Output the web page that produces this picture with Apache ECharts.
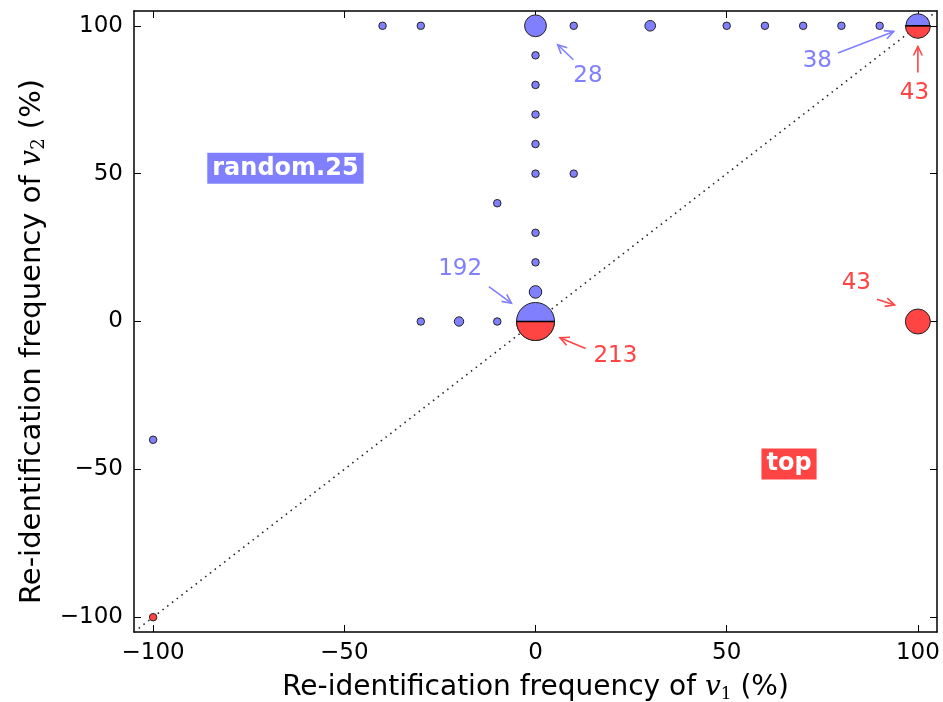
<!DOCTYPE html>
<html><head><meta charset="utf-8">
<script src="https://cdn.jsdelivr.net/npm/echarts@6/dist/echarts.min.js"></script>
<style>html,body{margin:0;padding:0;background:#fff}#c{width:943px;height:702px}</style>
</head><body><div id="c"></div>
<script>
// ---- data ----
const tickValues = [-100, -50, 0, 50, 100];
const blueX = [-40, -30, 0, 10, 30, 50, 60, 70, 80, 90, 100, 0, 0, 0, 0, 0, 0, 0, 0, 0, 10, -10, -30, -20, -10, -100];
const blueY = [100, 100, 100, 100, 100, 100, 100, 100, 100, 100, 100, 90, 80, 70, 60, 50, 30, 20, 10, 0, 50, 40, 0, 0, 0, -40];
const blueN = [1, 1, 28, 1, 3, 1, 1, 1, 1, 1, 38, 1, 1, 1, 1, 1, 1, 1, 5, 192, 1, 1, 1, 2, 1, 1];
const redX = [-100, 0, 100, 100];
const redY = [-100, 0, 100, 0];
const redN = [1, 213, 43, 43];
const diagX = [-105, 105];
const diagY = [-105, 105];
// annotations (data coordinates): label, series, text anchor, arrow tail, arrow head
const annLabels = ['28', '38', '192', '43', '213', '43'];
const annSeries = ['blue', 'blue', 'blue', 'red', 'red', 'red'];
const annTextX = [13.7, 73.7, -19.7, 99.1, 20.9, 83.9];
const annTextY = [83.1, 88.0, 17.8, 77.3, -11.8, 13.0];
const annTailX = [9.9, 79.1, -12.2, 100, 13.1, 89.3];
const annTailY = [88.5, 90.8, 11.8, 84.2, -9.1, 7.5];
const annHeadX = [5.8, 93.7, -6.3, 100, 6.4, 93.9];
const annHeadY = [93.6, 98.1, 6.2, 93.0, -5.5, 5.6];
const boxLabels = ['random.25', 'top'];
const boxSeries = ['blue', 'red'];
const boxX = [-65.4, 66.3];
const boxY = [51.8, -48.2];

// ---- styles ----
const COLORS = { blue: '#8080ff', red: '#ff4444' };
const EDGE = '#222';
function sizeOf(n) { return Math.min(7.5 * Math.pow(n, 0.32), 38); }
function fmt(v) { return v < 0 ? '\u2212' + Math.abs(v) : String(v); }

const blueData = blueX.map((x, i) => [x, blueY[i], blueN[i]]);
const redData = redX.map((x, i) => {
  const split = blueX.some((bx, j) => bx === x && blueY[j] === redY[i]) ? 1 : 0;
  return [x, redY[i], redN[i], split];
});
const annData = annLabels.map((l, i) => [annTextX[i], annTextY[i], annTailX[i], annTailY[i], annHeadX[i], annHeadY[i], i]);
const boxData = boxLabels.map((l, i) => [boxX[i], boxY[i], i]);

const axisCommon = {
  type: 'value', min: -105, max: 105,
  splitLine: { show: false },
  axisLine: { show: true, onZero: false, lineStyle: { color: '#000', width: 1.5 } },
  axisTick: { show: true, inside: true, length: 7, customValues: tickValues, lineStyle: { color: '#000', width: 1 } }
};
const labelStyle = { customValues: tickValues, formatter: fmt, fontFamily: 'DejaVu Sans', fontSize: 23, color: '#000' };
function nameStyle(fs, extra) {
  return Object.assign({
    fontFamily: 'DejaVu Sans', fontSize: fs, color: '#000',
    rich: {
      v: { fontFamily: 'DejaVu Serif', fontStyle: 'italic', fontSize: fs, color: '#000' },
      s: { fontFamily: 'DejaVu Serif', fontSize: Math.round(fs * 0.62), color: '#000', padding: [Math.round(fs * 0.46), 0, 0, 0] }
    }
  }, extra || {});
}

const chart = echarts.init(document.getElementById('c'), null, { renderer: 'canvas' });
chart.setOption({
  backgroundColor: '#fff',
  animation: false,
  grid: { left: 134, right: 6, top: 11, bottom: 70, containLabel: false, outerBoundsMode: 'none' },
  xAxis: [
    Object.assign({}, axisCommon, {
      position: 'bottom',
      axisLabel: Object.assign({ margin: 10 }, labelStyle),
      name: 'Re-identification frequency of {v|v}{s|1} (%)',
      nameLocation: 'middle', nameGap: 41, nameTextStyle: nameStyle(28)
    }),
    Object.assign({}, axisCommon, { position: 'top', axisLabel: { show: false } })
  ],
  yAxis: [
    Object.assign({}, axisCommon, {
      position: 'left',
      axisLabel: Object.assign({ margin: 11 }, labelStyle),
      name: 'Re-identification frequency of {v|v}{s|2} (%)',
      nameLocation: 'middle', nameRotate: 90, nameGap: 86,
      nameTextStyle: nameStyle(29, { padding: [0, 40, 0, 0] })
    }),
    Object.assign({}, axisCommon, { position: 'right', axisLabel: { show: false } })
  ],
  series: [
    {
      type: 'line', data: diagX.map((x, i) => [x, diagY[i]]), symbol: 'none', silent: true, z: 1,
      lineStyle: { color: '#222', width: 1.6, type: [1.5, 4.5] }
    },
    {
      type: 'scatter', data: blueData, z: 3,
      symbolSize: v => sizeOf(v[2]),
      itemStyle: { color: COLORS.blue, borderColor: EDGE, borderWidth: 1, opacity: 1 }
    },
    {
      type: 'custom', data: redData, z: 4, encode: { x: 0, y: 1 },
      renderItem: (params, api) => {
        const c = api.coord([api.value(0), api.value(1)]);
        const r = sizeOf(api.value(2)) / 2;
        if (api.value(3)) {
          return { type: 'group', children: [
            { type: 'sector', shape: { cx: c[0], cy: c[1], r0: 0, r: r, startAngle: 0, endAngle: Math.PI, clockwise: true },
              style: { fill: COLORS.red, stroke: EDGE, lineWidth: 1 } },
            { type: 'line', shape: { x1: c[0] - r, y1: c[1], x2: c[0] + r, y2: c[1] },
              style: { stroke: '#000', lineWidth: 1.5 } }
          ] };
        }
        return { type: 'circle', shape: { cx: c[0], cy: c[1], r: r }, style: { fill: COLORS.red, stroke: EDGE, lineWidth: 1 } };
      }
    },
    {
      type: 'custom', data: annData, z: 5, encode: { x: 0, y: 1 }, silent: true,
      renderItem: (params, api) => {
        const i = api.value(6);
        const col = COLORS[annSeries[i]];
        const t = api.coord([api.value(0), api.value(1)]);
        const a = api.coord([api.value(2), api.value(3)]);
        const h = api.coord([api.value(4), api.value(5)]);
        const ang = Math.atan2(h[1] - a[1], h[0] - a[0]);
        const L = 10, w = 0.45;
        const p1 = [h[0] - L * Math.cos(ang - w), h[1] - L * Math.sin(ang - w)];
        const p2 = [h[0] - L * Math.cos(ang + w), h[1] - L * Math.sin(ang + w)];
        return { type: 'group', children: [
          { type: 'text', style: { text: annLabels[i], x: t[0], y: t[1], fill: col, font: '23px "DejaVu Sans"', align: 'center', verticalAlign: 'middle' } },
          { type: 'line', shape: { x1: a[0], y1: a[1], x2: h[0], y2: h[1] }, style: { stroke: col, lineWidth: 1.6 } },
          { type: 'polyline', shape: { points: [p1, h, p2] }, style: { stroke: col, lineWidth: 1.6, fill: null } }
        ] };
      }
    },
    {
      type: 'custom', data: boxData, z: 5, encode: { x: 0, y: 1 }, silent: true,
      renderItem: (params, api) => {
        const i = api.value(2);
        const p = api.coord([api.value(0), api.value(1)]);
        return { type: 'text', style: {
          text: boxLabels[i], x: p[0], y: p[1], fill: '#fff', font: 'bold 24px "DejaVu Sans"',
          align: 'center', verticalAlign: 'middle', backgroundColor: COLORS[boxSeries[i]], padding: [4, 5, 3, 5]
        } };
      }
    }
  ]
});
</script>
</body></html>
